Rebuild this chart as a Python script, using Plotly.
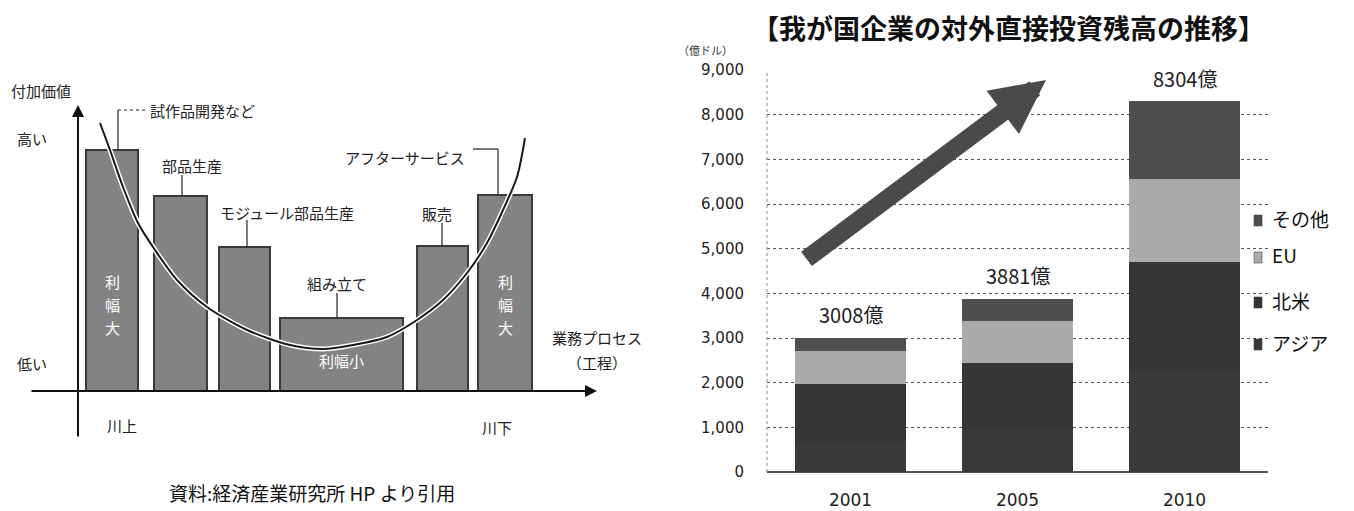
import plotly.graph_objects as go

# ---------------- data ----------------
# Left: smile curve diagram (value added by business process)
stages = ["試作品開発など", "部品生産", "モジュール部品生産", "組み立て", "販売", "アフターサービス"]
stage_value = [9.64, 7.8, 5.76, 2.92, 5.8, 7.84]
curve_x = [10.0, 11.0, 12.3, 13.8, 15.5, 17.7, 20.7, 24.7, 29.0, 32.3, 35.3,
           38.7, 41.7, 44.3, 46.7, 48.7, 50.3, 51.7, 52.5]
curve_y = [10.72, 9.64, 8.16, 6.72, 5.64, 4.44, 3.36, 2.44, 1.84, 1.68, 1.84,
           2.16, 2.84, 3.64, 4.72, 5.92, 7.24, 8.56, 10.12]

# Right: outward FDI stock (億ドル)
years = ["2001", "2005", "2010"]
asia = [620, 950, 2230]
north_america = [1350, 1480, 2470]
eu = [730, 950, 1850]
other = [308, 501, 1754]
totals = [a + b + c + d for a, b, c, d in zip(asia, north_america, eu, other)]
y_ticks = [0, 1000, 2000, 3000, 4000, 5000, 6000, 7000, 8000, 9000]
legend_names = ["その他", "EU", "北米", "アジア"]

# ---------------- layout constants ----------------
OFF = 8                      # page body margin
W, H = 1354 - OFF, 511 - OFF
JP = "Noto Sans CJK JP"
bar_x = [11.2, 18.05, 24.45, 34.15, 44.25, 50.5]
bar_w = [5.2, 5.3, 5.1, 12.3, 5.1, 5.4]


def PX(x):
    return (x - OFF) / W


def PY(y):
    return 1 - (y - OFF) / H


fig = go.Figure()

# left bars
fig.add_trace(go.Bar(x=bar_x, y=stage_value, width=bar_w, xaxis="x", yaxis="y",
                     marker=dict(color="#838383", line=dict(color="#3a3a3a", width=1.2)),
                     showlegend=False, hoverinfo="skip"))
# smile curve (white halo + dark line)
fig.add_trace(go.Scatter(x=curve_x, y=curve_y, mode="lines", xaxis="x", yaxis="y",
                         line=dict(color="white", width=5, shape="spline", smoothing=0.8),
                         showlegend=False, hoverinfo="skip"))
fig.add_trace(go.Scatter(x=curve_x, y=curve_y, mode="lines", xaxis="x", yaxis="y",
                         line=dict(color="#1a1a1a", width=2, shape="spline", smoothing=0.8),
                         showlegend=False, hoverinfo="skip"))

# right stacked bars
colors = {"アジア": "#3a3a3a", "北米": "#363636", "EU": "#ababab", "その他": "#4e4e4e"}
series = [("アジア", asia), ("北米", north_america), ("EU", eu), ("その他", other)]
for name, vals in series:
    fig.add_trace(go.Bar(x=years, y=vals, name=name, xaxis="x2", yaxis="y2",
                         marker=dict(color=colors[name], line=dict(width=0)),
                         showlegend=False, hoverinfo="skip"))

ann = []
shapes = []


# ---- left diagram annotations ----
def ltext(x, y, t, size=15, anchor="center", color="#222"):
    ann.append(dict(x=x, y=y, xref="x", yref="y", text=t, showarrow=False,
                    xanchor=anchor, yanchor="middle",
                    font=dict(family=JP, size=size, color=color)))


def lline(x0, y0, x1, y1, dash="solid", width=1.2):
    shapes.append(dict(type="line", xref="x", yref="y", x0=x0, y0=y0, x1=x1, y1=y1,
                       line=dict(color="#222", width=width, dash=dash)))


# axes arrows
ann.append(dict(x=7.8, y=11.44, ax=7.8, ay=-1.88, xref="x", yref="y", axref="x", ayref="y",
                text="", showarrow=True, arrowhead=2, arrowsize=1.2, arrowwidth=2, arrowcolor="#111"))
ann.append(dict(x=59.7, y=0, ax=3.0, ay=0, xref="x", yref="y", axref="x", ayref="y",
                text="", showarrow=True, arrowhead=2, arrowsize=1.2, arrowwidth=2, arrowcolor="#111"))

ltext(0.9, 12.04, "付加価値", 15, "left")
ltext(1.5, 10.12, "高い", 15, "left")
ltext(1.5, 1.12, "低い", 15, "left")
ltext(12.2, -1.36, "川上", 15)
ltext(49.7, -1.44, "川下", 15)
ltext(55.0, 2.16, "業務プロセス", 15, "left")
ltext(62.9, 1.16, "（工程）", 15, "right")

# stage labels with leaders
ltext(14.8, 11.24, stages[0], 15, "left")
lline(11.8, 11.24, 11.8, stage_value[0])
lline(11.8, 11.24, 14.6, 11.24, dash="dot")
ltext(19.2, 9.04, stages[1], 15)
lline(18.2, 8.64, 18.2, stage_value[1])
ltext(21.8, 7.16, stages[2], 15, "left")
lline(24.7, 6.84, 24.7, stage_value[2])
ltext(33.7, 4.32, stages[3], 15)
lline(33.7, 3.92, 33.7, stage_value[3])
ltext(43.7, 7.12, stages[4], 15)
lline(44.2, 6.72, 44.2, stage_value[4])
ltext(46.7, 9.36, stages[5], 15, "right")
lline(47.3, 9.68, 49.8, 9.68)
lline(49.8, 9.68, 49.8, stage_value[5])

# margin labels inside bars (vertical text, one character per line)
for cx in (11.2, 50.5):
    for ch, cy in zip("利幅大", (4.4, 3.48, 2.56)):
        ltext(cx, cy, ch, 15, color="white")
ltext(34.1, 1.24, "利幅小", 15, color="white")

# caption
ann.append(dict(x=PX(312), y=PY(492), xref="paper", yref="paper", showarrow=False,
                text="資料:経済産業研究所 HP より引用", xanchor="center", yanchor="middle",
                font=dict(family=JP, size=19, color="#111")))

# ---- right chart annotations ----
ann.append(dict(x=PX(1008), y=PY(27), xref="paper", yref="paper", showarrow=False,
                text="<b>【我が国企業の対外直接投資残高の推移】</b>", xanchor="center",
                yanchor="middle", font=dict(family=JP, size=27, color="#111")))
ann.append(dict(x=PX(705), y=PY(50), xref="paper", yref="paper", showarrow=False,
                text="（億ドル）", xanchor="center", yanchor="middle",
                font=dict(family=JP, size=11, color="#333")))
for i, tot in enumerate(totals):
    ann.append(dict(x=i, y=tot, xref="x2", yref="y2", text=f"{tot}億", showarrow=False,
                    yanchor="middle", yshift=23, font=dict(family=JP, size=20, color="#222")))
# big trend arrow
ann.append(dict(x=PX(1046), y=PY(80), xref="paper", yref="paper",
                ax=805 - 1046, ay=260 - 80, text="", showarrow=True,
                arrowhead=2, arrowsize=0.6, arrowwidth=18, arrowcolor="#4a4a4a"))
# plot left border dotted
shapes.append(dict(type="line", xref="paper", yref="paper", x0=PX(767), x1=PX(767),
                   y0=PY(472), y1=PY(70), line=dict(color="#888", width=1, dash="dot")))

# manual legend (right of the bars)
leg_text_y = [218, 255, 300, 342]
for name, ty in zip(legend_names, leg_text_y):
    shapes.append(dict(type="rect", xref="paper", yref="paper",
                       x0=PX(1254), x1=PX(1262), y0=PY(ty + 8), y1=PY(ty - 3),
                       fillcolor=colors[name], line=dict(color="#333", width=0.5)))
    ann.append(dict(x=PX(1270), y=PY(ty), xref="paper", yref="paper", showarrow=False,
                    text=name, xanchor="left", yanchor="middle",
                    font=dict(family=JP, size=19, color="#111")))

fig.update_layout(
    width=W, height=H, autosize=False,
    margin=dict(l=0, r=0, t=0, b=0, pad=0, autoexpand=False),
    paper_bgcolor="white", plot_bgcolor="rgba(0,0,0,0)",
    barmode="stack", bargap=0.34, showlegend=False,
    font=dict(family=JP, color="#222"),
    xaxis=dict(domain=[0, 640 / W], range=[0.8, 64.8], visible=False, fixedrange=True),
    yaxis=dict(domain=[0, 1], range=[-4.8, 15.32], visible=False, fixedrange=True),
    xaxis2=dict(domain=[PX(767), PX(1268)], anchor="y2", type="category",
                range=[-0.5, 2.5], showgrid=False, showline=False, ticks="",
                ticklabelstandoff=16,
                tickfont=dict(family="DejaVu Sans", size=17, color="#222")),
    yaxis2=dict(domain=[PY(472), PY(70)], anchor="x2", range=[0, 9000],
                tickvals=y_ticks, tickformat=",d", showgrid=True, gridcolor="#555",
                griddash="dot", gridwidth=1, zeroline=True, zerolinecolor="#555",
                showline=False, ticks="", ticklabelstandoff=22,
                tickfont=dict(family="DejaVu Sans", size=15, color="#222")),
    annotations=ann, shapes=shapes,
)

fig.write_html("out.html")
